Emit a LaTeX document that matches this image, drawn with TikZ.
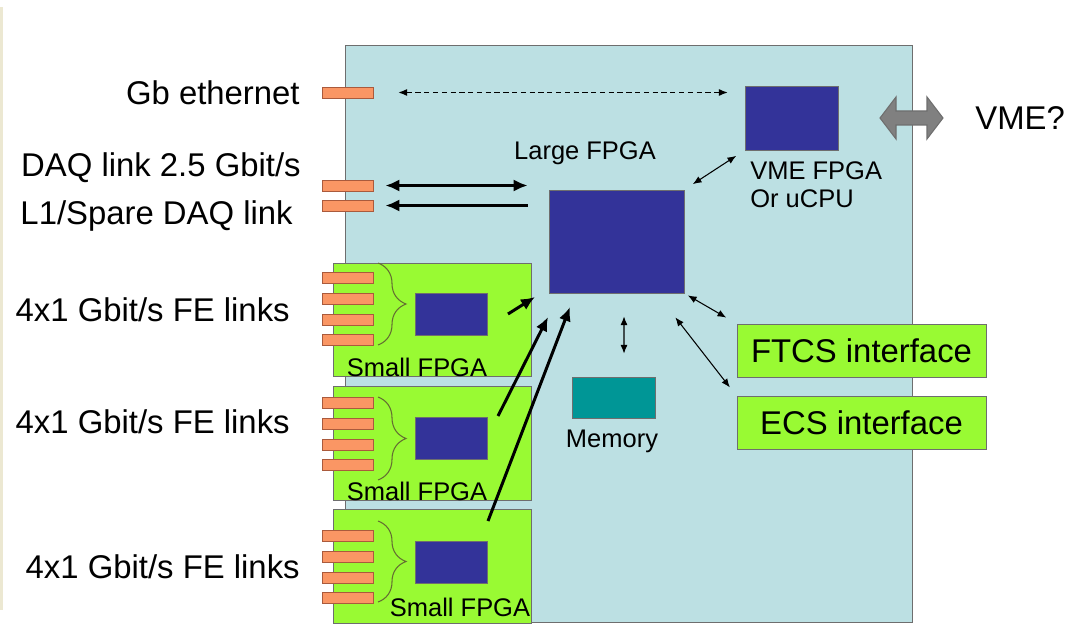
\documentclass[tikz,border=0pt]{standalone}
\usepackage{fontspec}
\setmainfont{Liberation Sans}
\usetikzlibrary{decorations.pathreplacing,arrows.meta}

\definecolor{boardblue}{RGB}{188,224,227}
\definecolor{portorange}{RGB}{250,150,100}
\definecolor{portedge}{RGB}{170,90,60}
\definecolor{chipblue}{RGB}{51,51,153}
\definecolor{cardgreen}{RGB}{153,250,51}
\definecolor{memteal}{RGB}{0,150,150}
\definecolor{edgegray}{RGB}{110,110,110}
\definecolor{arrowgray}{RGB}{128,128,128}
\definecolor{bracecol}{RGB}{100,110,50}
\definecolor{stripbeige}{RGB}{236,232,210}

\begin{document}
\begin{tikzpicture}[y=-1cm,
    port/.style={draw=portedge, fill=portorange, minimum width=1.02cm, minimum height=0.22cm, inner sep=0},
    chip/.style={draw=edgegray, fill=chipblue, inner sep=0},
    card/.style={draw=edgegray, fill=cardgreen, inner sep=0},
    big/.style={font=\fontsize{18.7}{22}\selectfont, inner sep=0},
    small/.style={font=\fontsize{14.5}{16}\selectfont, inner sep=0},
    link/.style={line width=0.6pt, {Latex[length=5pt,width=4pt]}-{Latex[length=5pt,width=4pt]}},
    bus/.style={line width=1.7pt, arrows={-Latex[length=8pt,width=7pt]}},
    brace/.style={draw=bracecol, line width=0.6pt, decorate, decoration={brace, amplitude=0.56cm}}]
    \useasboundingbox (0,0) rectangle (21.6,12.82);
    \fill[stripbeige] (0,0.15) rectangle (0.06,12.2);
    \node[draw=edgegray, fill=boardblue, minimum width=11.34cm, minimum height=11.54cm, inner sep=0] (board) at (12.57,6.67) {};

    % links on the left edge
    \node[port] (gbe) at (6.95,1.85) {};
    \node[big, anchor=east] (gbelbl) at (6.0,1.86) {Gb ethernet};
    \node[port] (daq) at (6.95,3.71) {};
    \node[port] (spare) at (6.95,4.11) {};
    \node[big, anchor=east] (daqlbl) at (6.02,3.36) {DAQ link 2.5 Gbit/s};
    \node[big, anchor=east] (sparelbl) at (5.86,4.32) {L1/Spare DAQ link};

    % chips
    \node[chip, minimum width=1.86cm, minimum height=1.28cm] (vme) at (15.83,2.36) {};
    \node[small, anchor=north west, align=left] (vmelbl) at (15.0,3.22) {VME FPGA\\Or uCPU};
    \node[chip, minimum width=2.7cm, minimum height=2.06cm] (large) at (12.33,4.83) {};
    \node[small] (largelbl) at (11.7,3.06) {Large FPGA};
    \node[draw=edgegray, fill=memteal, minimum width=1.66cm, minimum height=0.82cm, inner sep=0] (mem) at (12.27,7.95) {};
    \node[small] (memlbl) at (12.24,8.82) {Memory};
    \node[card, big, minimum width=4.98cm, minimum height=1.06cm] (ftcs) at (17.23,7.01) {FTCS interface};
    \node[card, big, minimum width=4.98cm, minimum height=1.06cm] (ecs) at (17.23,8.46) {ECS interface};
    % VME bus arrow
    \draw[edgegray, fill=arrowgray, line width=0.6pt] (17.6,2.36) -- (17.92,1.94) -- (17.92,2.22) -- (18.54,2.22)
        -- (18.54,1.94) -- (18.86,2.36) -- (18.54,2.78) -- (18.54,2.5) -- (17.92,2.5) -- (17.92,2.78) -- cycle;
    \node[big, anchor=west] (vmeq) at (19.5,2.36) {VME?};

    % front-end cards
    \foreach \i/\cy/\py/\bt/\bb/\sy/\lx/\ly/\fx/\fy in {
        1/6.40/5.56/5.26/6.90/6.29/8.34/7.34/5.80/6.20,
        2/8.87/8.06/7.94/9.60/8.76/8.34/9.82/5.80/8.44,
        3/11.33/10.72/10.42/12.04/11.24/9.20/12.14/6.00/11.34}
    {
        \node[card, minimum width=3.96cm, minimum height=2.27cm] (card\i) at (8.64,\cy) {};
        \foreach \k in {0,...,3}
            \node[port] (p\i\k) at (6.95,{\py+0.414*\k}) {};
        \draw[brace] (7.56,\bt) -- (7.56,\bb);
        \node[chip, minimum width=1.44cm, minimum height=0.84cm] (s\i) at (9.02,\sy) {};
        \node[small] (slbl\i) at (\lx,\ly) {Small FPGA};
        \node[big, anchor=east] (fe\i) at (\fx,\fy) {4x1 Gbit/s FE links};
    }

    % connections
    \draw[link, dash pattern=on 3pt off 2pt, shorten <=0.5cm, shorten >=0.34cm] (gbe.east) -- (gbe.east -| vme.west);
    \draw[bus, arrows={Latex[length=8pt,width=7pt]-Latex[length=8pt,width=7pt]}, shorten <=0.24cm, shorten >=0.42cm] (daq.east) -- (daq.east -| large.west);
    \draw[bus, arrows={Latex[length=8pt,width=7pt]-}, shorten <=0.24cm, shorten >=0.42cm] (spare.east) -- (spare.east -| large.west);
    \draw[link, shorten <=0.2cm, shorten >=0.2cm] (large.north east) -- (vme.south west);
    \draw[link, shorten <=0.46cm, shorten >=0.46cm] ([xshift=0.15cm]large.south) -- ([xshift=0.21cm]mem.north);
    \draw[link, shorten <=0.08cm, shorten >=0.24cm] (large.south east) -- (ftcs.north west);
    \draw[link, shorten >=0.22cm] ([xshift=-0.18cm,yshift=-0.48cm]large.south east) -- (ecs.north west);
    \coordinate (a1) at (10.16,6.28); \coordinate (b1) at (10.7,5.94);
    \coordinate (a2) at (9.96,8.32);  \coordinate (b2) at (10.96,6.34);
    \coordinate (a3) at (9.76,10.42); \coordinate (b3) at (11.4,6.14);
    \foreach \i in {1,2,3}
        \draw[bus] (a\i) -- (b\i);
\end{tikzpicture}
\end{document}
